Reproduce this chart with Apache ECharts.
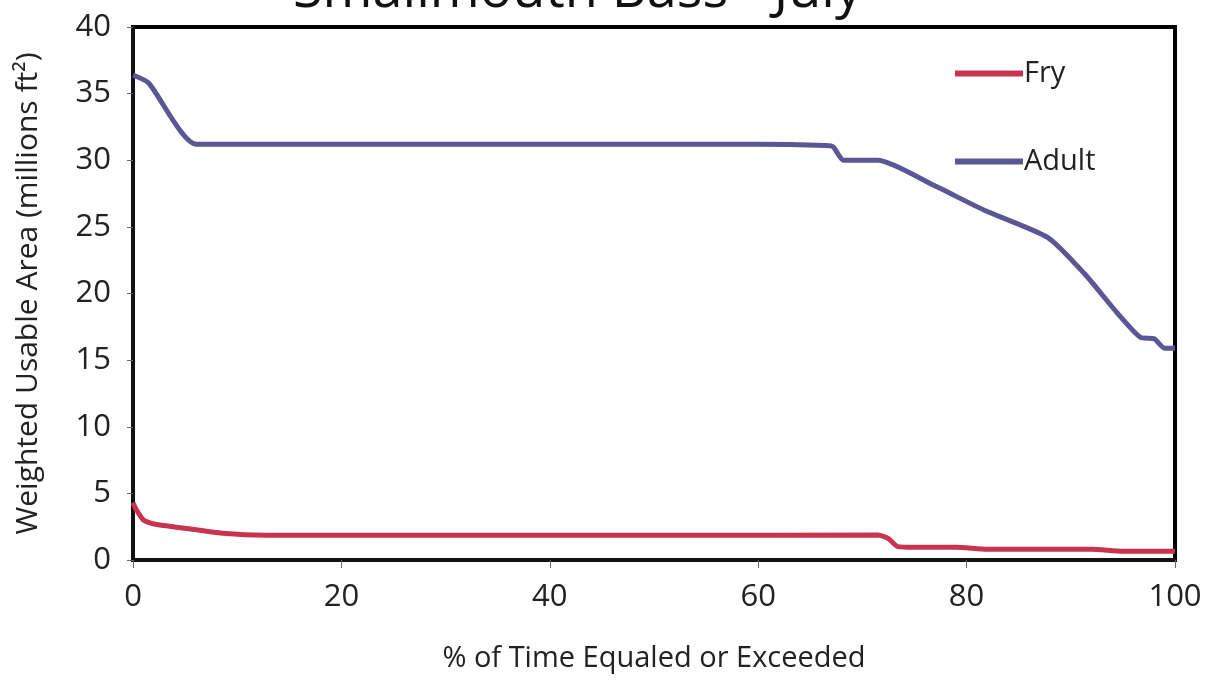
<!DOCTYPE html>
<html lang="en">
<head>
    <meta charset="UTF-8">
    <title>Smallmouth Bass - July</title>
    <script src="https://cdn.jsdelivr.net/npm/echarts@6.0.0/dist/echarts.min.js"></script>
    <style>
        html, body { margin: 0; padding: 0; background: #fff; }
        #chart { width: 1209px; height: 680px; }
    </style>
</head>
<body>
<div id="chart"></div>
<script>
    // values
    const fryX   = [0, 0.3, 1, 2, 4.8, 8.6, 12.8, 30, 50, 71.5, 72.5, 73.4, 75, 79, 82, 92, 95, 100];
    const fryY   = [4.3, 3.8, 3.0, 2.7, 2.4, 2.0, 1.85, 1.85, 1.85, 1.87, 1.6, 1.0, 0.95, 0.95, 0.8, 0.8, 0.65, 0.65];
    const adultX = [0, 1.5, 6.1, 20, 40, 60, 66.5, 67.2, 68.2, 71.5, 76.9, 81.7, 87.8, 91.3, 94.5, 96.7, 98, 99, 100];
    const adultY = [36.4, 35.8, 31.2, 31.2, 31.2, 31.2, 31.1, 31.0, 30.0, 30.0, 28.1, 26.25, 24.2, 21.5, 18.5, 16.7, 16.6, 15.9, 15.9];
    const xTicks = { min: 0, max: 100, step: 20 };
    const yTicks = { min: 0, max: 40, step: 5 };

    const zip = (xs, ys) => xs.map((x, i) => [x, ys[i]]);
    const font = 'Open Sans';

    const chart = echarts.init(document.getElementById('chart'));
    chart.setOption({
        backgroundColor: '#fff',
        animation: false,
        textStyle: { fontFamily: font },
        title: {
            text: 'Smallmouth Bass - July',
            left: 288,
            top: -40,
            textStyle: { fontFamily: font, fontSize: 54, fontWeight: 'normal', color: '#111' }
        },
        legend: {
            orient: 'vertical',
            left: 950,
            top: 54,
            itemWidth: 68,
            itemHeight: 6,
            itemGap: 59,
            icon: 'rect',
            textStyle: { fontFamily: font, fontSize: 29, color: '#222', padding: [0, 0, 0, -4] },
            data: ['Fry', 'Adult']
        },
        grid: {
            left: 133, right: 34, top: 27, bottom: 120,
            outerBoundsMode: 'none',
            containLabel: false,
            show: true, borderColor: '#000', borderWidth: 4, backgroundColor: '#fff'
        },
        xAxis: {
            type: 'value',
            min: xTicks.min, max: xTicks.max, interval: xTicks.step,
            name: '% of Time Equaled or Exceeded',
            nameLocation: 'middle',
            nameGap: 84,
            nameTextStyle: { fontFamily: font, fontSize: 29, color: '#222' },
            axisLine: { show: true, lineStyle: { color: '#111', width: 4 } },
            axisTick: { show: true, inside: false, length: 8, lineStyle: { color: '#666' } },
            axisLabel: { fontFamily: font, fontSize: 31, color: '#222', margin: 22 },
            splitLine: { show: false }
        },
        yAxis: {
            type: 'value',
            min: yTicks.min, max: yTicks.max, interval: yTicks.step,
            name: 'Weighted Usable Area (millions ft²)',
            nameLocation: 'middle',
            nameGap: 90,
            nameTextStyle: { fontFamily: font, fontSize: 30, color: '#222' },
            axisLine: { show: true, lineStyle: { color: '#111', width: 4 } },
            axisTick: { show: true, inside: false, length: 6, lineStyle: { color: '#666' } },
            axisLabel: { fontFamily: font, fontSize: 31, color: '#222', margin: 22 },
            splitLine: { show: false }
        },
        series: [
            {
                name: 'Fry',
                type: 'line',
                data: zip(fryX, fryY),
                showSymbol: false,
                smooth: 0.2,
                lineStyle: { color: '#c8344f', width: 5 },
                itemStyle: { color: '#c8344f' }
            },
            {
                name: 'Adult',
                type: 'line',
                data: zip(adultX, adultY),
                showSymbol: false,
                smooth: 0.2,
                lineStyle: { color: '#5b5694', width: 5 },
                itemStyle: { color: '#5b5694' }
            }
        ]
    });
</script>
</body>
</html>
